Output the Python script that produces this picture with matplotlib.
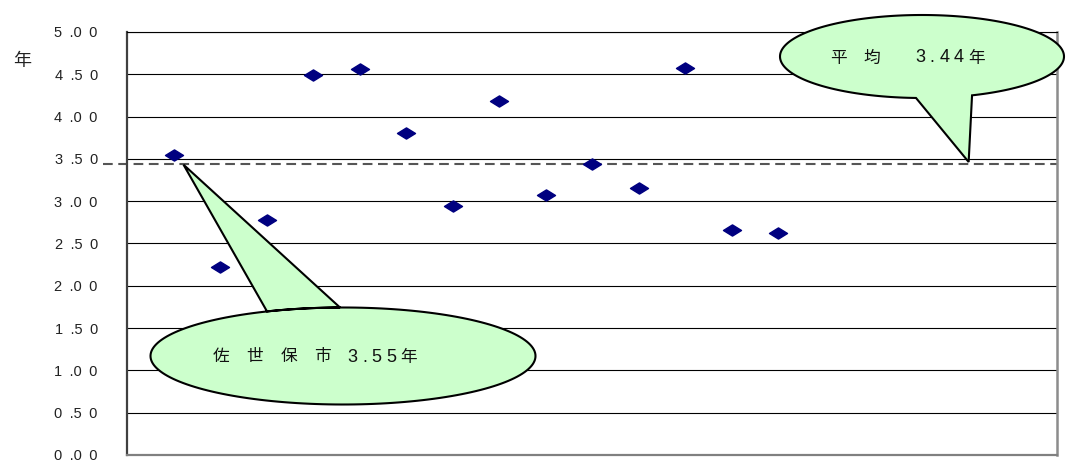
import numpy as np
import matplotlib
matplotlib.use("Agg")
import matplotlib.pyplot as plt
from matplotlib.path import Path
from matplotlib.patches import PathPatch
from matplotlib.transforms import IdentityTransform

# ---- data -------------------------------------------------------------
city_index = list(range(1, 15))
years = [3.55, 2.22, 2.78, 4.49, 4.56, 3.81, 2.94, 4.19, 3.07, 3.44, 3.16, 4.57, 2.66, 2.63]
average = 3.44
yticks = [0.0, 0.5, 1.0, 1.5, 2.0, 2.5, 3.0, 3.5, 4.0, 4.5, 5.0]
unit_label = "年"
city_label = "佐 世 保 市 3.55年"
avg_label = "平 均   3.44年"

# ---- figure -----------------------------------------------------------
W, H = 1067, 462
DPI = 100
plt.rcParams["lines.scale_dashes"] = False
fig = plt.figure(figsize=(W / DPI, H / DPI), dpi=DPI)
fig.patch.set_facecolor("white")

ax = fig.add_axes([127 / W, (H - 455) / H, 930 / W, 423 / H])
ax.set_xlim(0, 20)
ax.set_ylim(0, 5)

# horizontal grid
for t in yticks[1:]:
    ax.axhline(t, color="black", lw=0.8, zorder=1)

# spines
ax.spines["left"].set_color("#404040")
ax.spines["left"].set_linewidth(1.6)
ax.spines["bottom"].set_color("#808080")
ax.spines["bottom"].set_linewidth(1.6)
ax.spines["right"].set_color("#8c8c8c")
ax.spines["right"].set_linewidth(1.8)
ax.spines["top"].set_color("black")
ax.spines["top"].set_linewidth(0.8)

ax.set_xticks([])
ax.set_yticks(yticks)


def spaced(v):
    s = f"{v:.2f}"
    return s[0] + "\u2002" + s[1:3] + "\u2002" + s[3]


ax.set_yticklabels([spaced(v) for v in yticks],
                   fontfamily=["Liberation Sans", "DejaVu Sans"], fontsize=10.5,
                   color="#222222")
ax.tick_params(axis="y", length=0, pad=21)

# average line
ax.axhline(average, xmin=-24 / 930, xmax=1, color="#555555", lw=1.5,
           dashes=(7, 4), clip_on=False, zorder=2)

# diamond markers
diamond = Path([(-1, 0), (0, 0.62), (1, 0), (0, -0.62), (-1, 0)],
               [Path.MOVETO, Path.LINETO, Path.LINETO, Path.LINETO, Path.CLOSEPOLY])
ax.plot(city_index, years, linestyle="none", marker=diamond, markersize=13,
        color="#000080", markeredgecolor="#000080", zorder=4)

fig.text(22 / W, 1 - 61 / H, unit_label, fontfamily=["Noto Sans CJK JP"],
         fontsize=13, ha="center", va="center", color="#222222")


# ---- callouts ---------------------------------------------------------
def to_disp(x, y):
    return (x, H - y)


def callout(cx, cy, a, b, base_left, base_right, tip_disp):
    thL = np.arctan2((base_left[1] - cy) / b, (base_left[0] - cx) / a)
    thR = np.arctan2((base_right[1] - cy) / b, (base_right[0] - cx) / a)
    th = np.linspace(thR, thL - 2 * np.pi, 200)
    pts = [to_disp(cx + a * np.cos(t), cy + b * np.sin(t)) for t in th]
    pts.append(tuple(tip_disp))
    pts.append(pts[0])
    codes = [Path.MOVETO] + [Path.LINETO] * (len(pts) - 2) + [Path.CLOSEPOLY]
    patch = PathPatch(Path(pts, codes), facecolor="#ccffcc", edgecolor="black",
                      lw=1.5, transform=IdentityTransform(), clip_on=False,
                      zorder=10, joinstyle="miter")
    ax.add_patch(patch)


fig.canvas.draw()
tip1 = ax.transData.transform((city_index[0], years[0])) + np.array([10, -10])
callout(343, 356, 192.5, 48.5, (268, 312), (340, 307.5), tip1)
tip2 = ax.transData.transform((18.1, average)) + np.array([0, 2])
callout(922, 56.5, 142, 41.5, (916, 98), (972, 95.3), tip2)

renderer = fig.canvas.get_renderer()


def tracked_text(x_px, y_px, s):
    """Draw a string one glyph at a time with wide letter spacing."""
    x = x_px
    for ch in s:
        if ch == " ":
            x += 4.5 + 4.5
            continue
        wide = ord(ch) > 0x2E80
        t = fig.text(x, H - y_px, ch, transform=IdentityTransform(),
                     ha="left", va="center", fontsize=12 if wide else 13,
                     fontfamily=["Liberation Sans", "Noto Sans CJK JP"],
                     color="#111111", zorder=20)
        x += t.get_window_extent(renderer).width + (8 if wide else 4.5)


tracked_text(213, 357, city_label)
tracked_text(830, 58, avg_label)

fig.savefig("out.png", dpi=DPI)
